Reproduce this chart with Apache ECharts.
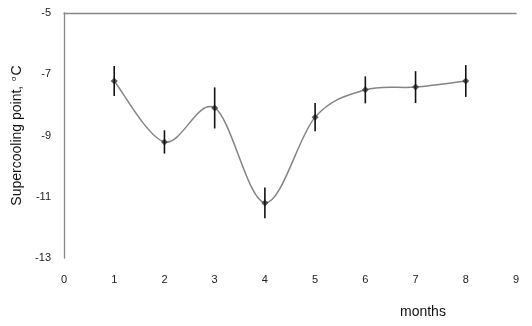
<!DOCTYPE html>
<html>
<head>
<meta charset="utf-8">
<script src="https://cdn.jsdelivr.net/npm/echarts@6/dist/echarts.min.js"></script>
<style>html,body{margin:0;padding:0;background:#fff;}#c{width:532px;height:326px;}</style>
</head>
<body>
<div id="c"></div>
<script>
const months = [1, 2, 3, 4, 5, 6, 7, 8];
const supercooling = [-7.22, -9.21, -8.1, -11.2, -8.4, -7.51, -7.42, -7.22];
const errors = [0.49, 0.38, 0.67, 0.5, 0.46, 0.44, 0.52, 0.52];
const xTicks = [0, 1, 2, 3, 4, 5, 6, 7, 8, 9];
const yTicks = [-13, -11, -9, -7, -5];

const chart = echarts.init(document.getElementById('c'), null, {renderer: 'canvas'});
const font = 'Liberation Sans, Arial, sans-serif';
const points = months.map((m, i) => [m, supercooling[i]]);
const errData = months.map((m, i) => [m, supercooling[i] - errors[i], supercooling[i] + errors[i]]);

chart.setOption({
  animation: false,
  backgroundColor: '#fff',
  grid: {left: 64, right: 16, top: 13, bottom: 68, containLabel: false},
  xAxis: [{
    type: 'value', min: xTicks[0], max: xTicks[xTicks.length - 1], interval: 1,
    axisLine: {show: false}, axisTick: {show: false}, splitLine: {show: false},
    axisLabel: {fontFamily: font, fontSize: 11, color: '#222', margin: 16}
  }, {
    type: 'value', position: 'top', min: xTicks[0], max: xTicks[xTicks.length - 1],
    axisLine: {show: true, lineStyle: {color: '#878787', width: 1.3}},
    axisTick: {show: false}, axisLabel: {show: false}, splitLine: {show: false}
  }],
  yAxis: {
    type: 'value', min: yTicks[0], max: yTicks[yTicks.length - 1], interval: 2,
    axisLine: {show: true, lineStyle: {color: '#878787', width: 1.3}},
    axisTick: {show: false}, splitLine: {show: false},
    axisLabel: {fontFamily: font, fontSize: 11, color: '#222', margin: 13},
    name: '{a|Supercooling point, }{s|o}{a|C}',
    nameLocation: 'middle', nameGap: 39, nameRotate: 90,
    nameTextStyle: {
      rich: {
        a: {fontFamily: font, fontSize: 14, color: '#111'},
        s: {fontFamily: font, fontSize: 8, color: '#111', verticalAlign: 'top', padding: [0, 1, 5, 1]}
      }
    }
  },
  graphic: [{
    type: 'text', left: 400, top: 305,
    style: {text: 'months', font: '14px ' + font, fill: '#111'}
  }],
  series: [{
    // smooth curve (Catmull-Rom through the data points, mapped by the axes)
    type: 'custom', data: [0], z: 2,
    renderItem: function (params, api) {
      const pts = points.map(p => api.coord(p));
      let d = 'M' + pts[0][0] + ' ' + pts[0][1];
      for (let i = 0; i < pts.length - 1; i++) {
        const p0 = pts[Math.max(i - 1, 0)], p1 = pts[i], p2 = pts[i + 1], p3 = pts[Math.min(i + 2, pts.length - 1)];
        const c1x = p1[0] + (p2[0] - p0[0]) / 6, c1y = p1[1] + (p2[1] - p0[1]) / 6;
        const c2x = p2[0] - (p3[0] - p1[0]) / 6, c2y = p2[1] - (p3[1] - p1[1]) / 6;
        d += ' C' + c1x + ' ' + c1y + ' ' + c2x + ' ' + c2y + ' ' + p2[0] + ' ' + p2[1];
      }
      return {
        type: 'path',
        shape: {pathData: d},
        style: {stroke: '#858585', lineWidth: 1.5, fill: null}
      };
    }
  }, {
    type: 'scatter', data: points,
    symbol: 'diamond', symbolSize: 7,
    itemStyle: {color: '#333'}, z: 3
  }, {
    type: 'custom', data: errData, z: 4,
    encode: {x: 0, y: [1, 2]},
    renderItem: function (params, api) {
      const x = api.value(0);
      const lo = api.coord([x, api.value(1)]);
      const hi = api.coord([x, api.value(2)]);
      return {
        type: 'line',
        shape: {x1: lo[0], y1: lo[1], x2: hi[0], y2: hi[1]},
        style: {stroke: '#111', lineWidth: 1.6}
      };
    }
  }]
});
</script>
</body>
</html>
